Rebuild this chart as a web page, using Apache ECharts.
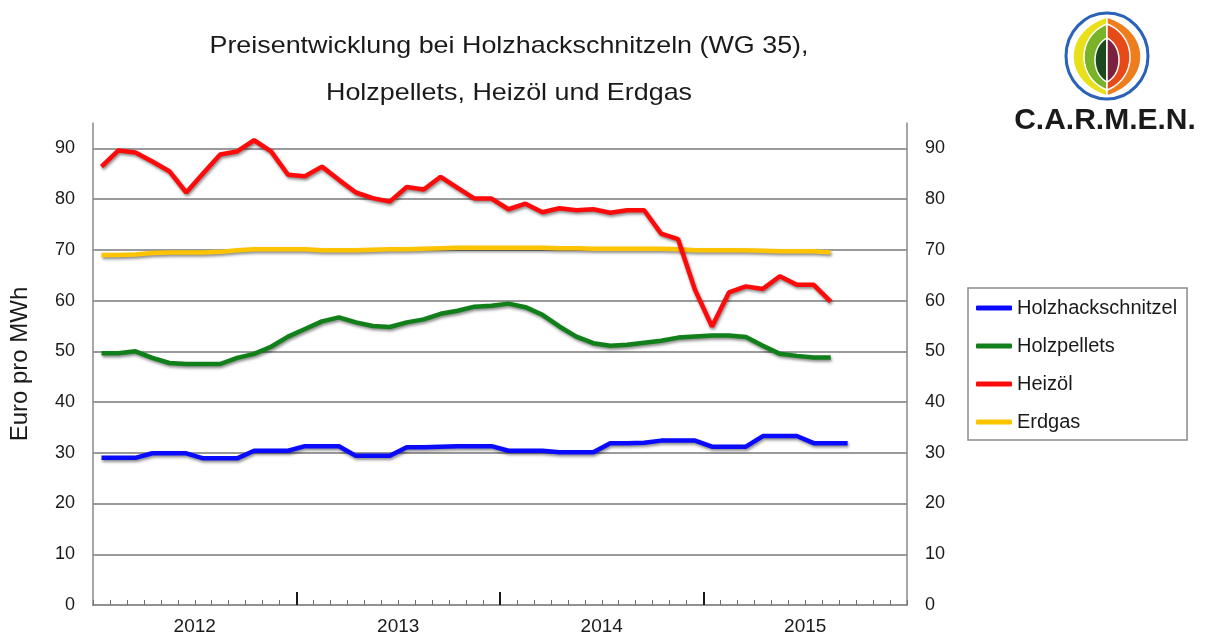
<!DOCTYPE html>
<html>
<head>
<meta charset="utf-8">
<script src="https://cdn.jsdelivr.net/npm/echarts@6/dist/echarts.min.js"></script>
<style>
html,body{margin:0;padding:0;background:#fff;}
#c{width:1205px;height:639px;}
</style>
</head>
<body>
<div id="c"></div>
<script>
var years = ['2012', '2013', '2014', '2015'];
var monthNums = ['01','02','03','04','05','06','07','08','09','10','11','12'];
var seriesNames = ['Holzhackschnitzel', 'Holzpellets', 'Heizöl', 'Erdgas'];
var titleLines = ['Preisentwicklung bei Holzhackschnitzeln (WG 35),', 'Holzpellets, Heizöl und Erdgas'];
var yTicks = [0, 10, 20, 30, 40, 50, 60, 70, 80, 90];

var holzhackschnitzel = [29.0, 29.0, 29.0, 29.9, 29.9, 29.9, 28.9, 28.9, 28.9, 30.4, 30.4, 30.4,
  31.3, 31.3, 31.3, 29.4, 29.4, 29.4, 31.1, 31.1, 31.2, 31.3, 31.3, 31.3,
  30.4, 30.4, 30.4, 30.1, 30.1, 30.1, 31.9, 31.9, 32.0, 32.4, 32.4, 32.4,
  31.2, 31.2, 31.2, 33.3, 33.3, 33.3, 31.9, 31.9, 31.9];
var holzpellets = [49.6, 49.6, 50.0, 48.7, 47.7, 47.5, 47.5, 47.5, 48.7, 49.5, 50.9, 52.9,
  54.4, 55.9, 56.7, 55.7, 55.0, 54.8, 55.7, 56.3, 57.4, 58.0, 58.8, 59.0,
  59.4, 58.7, 57.2, 54.9, 52.9, 51.6, 51.1, 51.3, 51.7, 52.1, 52.7, 52.9,
  53.1, 53.1, 52.8, 51.1, 49.5, 49.1, 48.8, 48.8];
var heizoel = [86.4, 89.6, 89.2, 87.4, 85.5, 81.3, 85.1, 88.8, 89.4, 91.6, 89.4, 84.8,
  84.5, 86.4, 83.8, 81.3, 80.2, 79.5, 82.4, 81.9, 84.4, 82.2, 80.1, 80.1,
  78.0, 79.1, 77.4, 78.2, 77.8, 78.0, 77.3, 77.8, 77.8, 73.2, 72.1, 62.1,
  54.9, 61.6, 62.8, 62.3, 64.8, 63.1, 63.1, 59.8];
var erdgas = [69.0, 69.0, 69.1, 69.4, 69.5, 69.5, 69.5, 69.6, 69.9, 70.1, 70.1, 70.1,
  70.1, 69.9, 69.9, 69.9, 70.0, 70.1, 70.1, 70.2, 70.3, 70.4, 70.4, 70.4,
  70.4, 70.4, 70.4, 70.3, 70.3, 70.2, 70.2, 70.2, 70.2, 70.2, 70.1, 69.9,
  69.9, 69.9, 69.9, 69.8, 69.7, 69.7, 69.7, 69.5];

var months = [];
years.forEach(function (y) { monthNums.forEach(function (m) { months.push(y + '-' + m); }); });
// year axis positions (in years from start): boundaries between years and label centres
var yearBoundaries = [];
var yearCentres = [];
years.forEach(function (y, i) { yearCentres.push(i + 0.5); if (i > 0) yearBoundaries.push(i); });

var FONT = '"Liberation Sans", Arial, sans-serif';
var shadow = { shadowColor: 'rgba(0,0,0,0.45)', shadowBlur: 3, shadowOffsetX: 1, shadowOffsetY: 2 };

function lineSeries(name, data, color) {
  return {
    name: name, type: 'line', data: data, xAxisIndex: 0, yAxisIndex: 0,
    symbol: 'none', smooth: false,
    lineStyle: Object.assign({ width: 4.5, color: color }, shadow),
    itemStyle: { color: color }
  };
}

// logo leaf shape sampled from a cubic curve (decoration only)
function leaf(side, top, bottom, bulge, fill) {
  var cx = 1107, k = bulge / 0.75 * side, h = bottom - top;
  var p0 = [cx, top], p1 = [cx - k, top + h * 0.18], p2 = [cx - k, bottom - h * 0.18], p3 = [cx, bottom];
  var pts = [];
  for (var i = 0; i <= 30; i++) {
    var t = i / 30, u = 1 - t;
    pts.push([
      u * u * u * p0[0] + 3 * u * u * t * p1[0] + 3 * u * t * t * p2[0] + t * t * t * p3[0],
      u * u * u * p0[1] + 3 * u * u * t * p1[1] + 3 * u * t * t * p2[1] + t * t * t * p3[1]
    ]);
  }
  return { type: 'polygon', shape: { points: pts }, style: { fill: fill, stroke: '#fff', lineWidth: 1.5 } };
}

var chart = echarts.init(document.getElementById('c'), null, { renderer: 'canvas' });
chart.setOption({
  backgroundColor: '#fff',
  animation: false,
  textStyle: { fontFamily: FONT },
  legend: {
    orient: 'vertical', left: 968, top: 288,
    data: seriesNames,
    icon: 'roundRect',
    itemWidth: 36, itemHeight: 5, itemGap: 18,
    padding: [10, 10, 8, 8],
    borderColor: '#8a8a8a', borderWidth: 1.5, borderRadius: 0,
    textStyle: { fontSize: 20, color: '#1a1a1a', lineHeight: 20, fontFamily: FONT }
  },
  grid: { left: 93, right: 298, top: 123, bottom: 34, containLabel: false },
  xAxis: [
    {
      type: 'category', data: months, boundaryGap: true, position: 'bottom',
      axisLine: { show: true, lineStyle: { color: '#6e6e6e', width: 1.5 } },
      axisTick: { show: true, inside: true, length: 5, interval: 0, lineStyle: { color: '#6e6e6e', width: 1 } },
      axisLabel: { show: false },
      splitLine: { show: false }
    },
    {
      type: 'value', min: 0, max: years.length, position: 'bottom',
      axisLine: { show: false },
      axisTick: { show: true, inside: true, length: 13, customValues: yearBoundaries, lineStyle: { color: '#1a1a1a', width: 2 } },
      axisLabel: {
        show: true, fontSize: 19, color: '#1a1a1a', margin: 12, fontFamily: FONT,
        customValues: yearCentres,
        formatter: function (v) { return years[Math.floor(v)] || ''; }
      },
      splitLine: { show: false }
    }
  ],
  yAxis: [
    {
      type: 'value', min: yTicks[0], max: 95, interval: 10, position: 'left',
      name: 'Euro pro MWh', nameLocation: 'middle', nameGap: 61, nameRotate: 90,
      nameTextStyle: { fontSize: 24, color: '#1a1a1a', fontFamily: FONT },
      axisLine: { show: true, lineStyle: { color: '#8a8a8a', width: 1.5 } },
      axisTick: { show: false },
      axisLabel: { fontSize: 18, color: '#1a1a1a', margin: 18, showMaxLabel: false, fontFamily: FONT },
      splitLine: { show: true, showMaxLine: false, showMinLine: false, lineStyle: { color: '#9a9a9a', width: 2 } }
    },
    {
      type: 'value', min: yTicks[0], max: 95, interval: 10, position: 'right',
      axisLine: { show: true, lineStyle: { color: '#8a8a8a', width: 1.5 } },
      axisTick: { show: false },
      axisLabel: { fontSize: 18, color: '#1a1a1a', margin: 18, showMaxLabel: false, fontFamily: FONT },
      splitLine: { show: false }
    }
  ],
  series: [
    lineSeries(seriesNames[0], holzhackschnitzel, '#0a0aff'),
    lineSeries(seriesNames[1], holzpellets, '#12801a'),
    lineSeries(seriesNames[3], erdgas, '#ffc400'),
    lineSeries(seriesNames[2], heizoel, '#ff0a0a')
  ],
  graphic: [
    { type: 'text', x: 509, y: 46, scaleX: 1.12, style: { text: titleLines[0], fill: '#1a1a1a', font: '24px "Liberation Sans", Arial, sans-serif', textAlign: 'center', textVerticalAlign: 'middle' } },
    { type: 'text', x: 509, y: 93, scaleX: 1.12, style: { text: titleLines[1], fill: '#1a1a1a', font: '24px "Liberation Sans", Arial, sans-serif', textAlign: 'center', textVerticalAlign: 'middle' } },
    { type: 'ellipse', shape: { cx: 1107, cy: 56, rx: 41, ry: 43 }, style: { fill: '#fff', stroke: '#2a62b8', lineWidth: 3 } },
    leaf(1, 17, 96, 34, '#e8e01a'),
    leaf(1, 24, 90, 23, '#78b32a'),
    leaf(1, 38, 82, 12, '#1b4a1e'),
    leaf(-1, 17, 96, 34, '#ee7d1c'),
    leaf(-1, 24, 90, 23, '#e64a19'),
    leaf(-1, 38, 82, 12, '#7b2140'),
    { type: 'text', x: 1105, y: 121, style: { text: 'C.A.R.M.E.N.', fill: '#1a1a1a', font: 'bold 30px "Liberation Sans", Arial, sans-serif', textAlign: 'center', textVerticalAlign: 'middle' } }
  ]
});
</script>
</body>
</html>
